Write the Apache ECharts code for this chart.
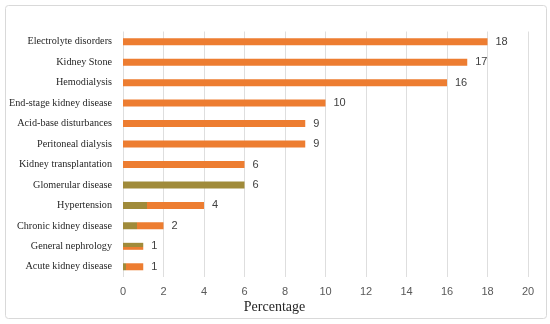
<!DOCTYPE html>
<html>
<head>
<meta charset="utf-8">
<script src="https://cdn.jsdelivr.net/npm/echarts@6/dist/echarts.min.js"></script>
<style>html,body{margin:0;padding:0;background:#fff}#c{width:550px;height:324px}</style>
</head>
<body>
<div id="c"></div>
<script>
const categories = ["Acute kidney disease","General nephrology","Chronic kidney disease","Hypertension","Glomerular disease","Kidney transplantation","Peritoneal dialysis","Acid-base disturbances","End-stage kidney disease","Hemodialysis","Kidney Stone","Electrolyte disorders"];
const values = [1,1,2,4,6,6,9,9,10,16,17,18];
const xTicks = [0,2,4,6,8,10,12,14,16,18,20];
const axisTitle = "Percentage";

const ORANGE = '#ED7D31';
const OLIVE = '#A08B3A';
function grad(x2, y2, c1, c2, stop){
  return {type:'linear',x:0,y:0,x2:x2,y2:y2,colorStops:[{offset:0,color:c1},{offset:stop,color:c1},{offset:stop,color:c2},{offset:1,color:c2}]};
}
const barColors = {
  0: grad(1,0,OLIVE,ORANGE,0.15),
  1: grad(0,1,OLIVE,ORANGE,0.6),
  2: grad(1,0,OLIVE,ORANGE,0.35),
  3: grad(1,0,OLIVE,ORANGE,0.3),
  4: OLIVE
};

const chart = echarts.init(document.getElementById('c'), null, {renderer:'canvas'});
chart.setOption({
  animation:false,
  backgroundColor:'#fff',
  grid:{left:123,right:22,top:31.5,bottom:47,containLabel:false},
  xAxis:{type:'value',min:0,max:20,interval:2,
    axisLine:{show:false},axisTick:{show:false},
    axisLabel:{color:'#595959',fontFamily:'Liberation Sans',fontSize:11,margin:9,
      formatter:function(v){return xTicks.indexOf(v)>=0?String(v):'';}},
    splitLine:{lineStyle:{color:'#dedede',width:1}}},
  yAxis:{type:'category',data:categories,
    axisLine:{show:false},axisTick:{show:false},
    axisLabel:{color:'#262626',fontFamily:'Liberation Serif',fontSize:10.2,margin:11}},
  series:[{type:'bar',barWidth:7,
    data:values.map(function(v,i){return barColors[i]!==undefined?{value:v,itemStyle:{color:barColors[i]}}:v;}),
    itemStyle:{color:ORANGE},
    label:{show:true,position:'right',distance:8,color:'#404040',fontFamily:'Liberation Sans',fontSize:11}}],
  graphic:[
    {type:'rect',shape:{x:5.5,y:5.5,width:541,height:313,r:3},style:{fill:'none',stroke:'#d9d9d9',lineWidth:1},z:-1},
    {type:'text',x:274.5,y:307,style:{text:axisTitle,fill:'#262626',font:'14px "Liberation Serif"',textAlign:'center',textVerticalAlign:'middle'}}
  ]
});
</script>
</body>
</html>
